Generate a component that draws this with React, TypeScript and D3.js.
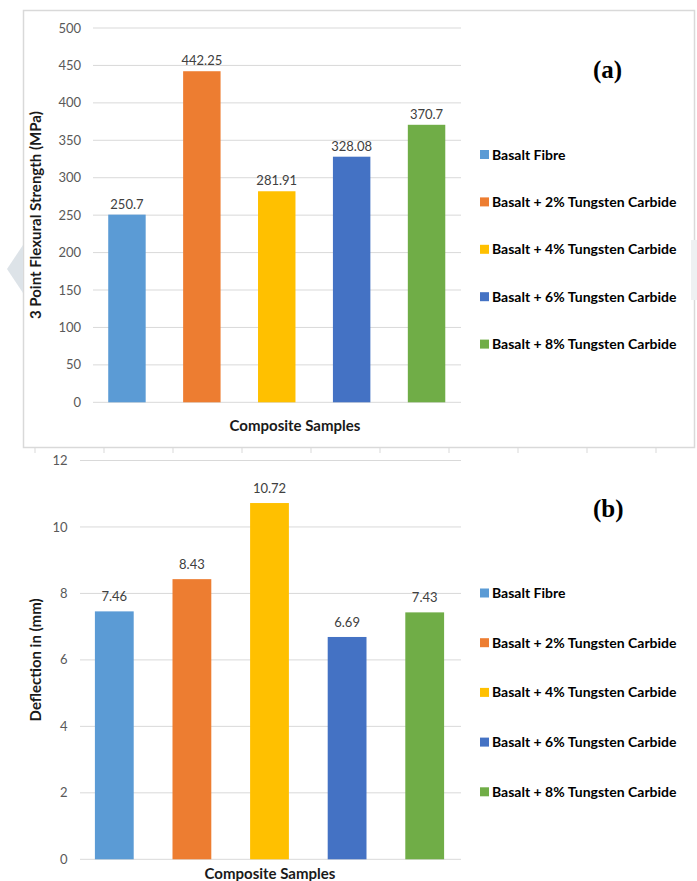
import React from "react";
import * as d3 from "d3";

const samples = [
  "Basalt Fibre",
  "Basalt + 2% Tungsten Carbide",
  "Basalt + 4% Tungsten Carbide",
  "Basalt + 6% Tungsten Carbide",
  "Basalt + 8% Tungsten Carbide",
];
const barColors = ["#5B9BD5", "#ED7D31", "#FFC000", "#4472C4", "#70AD47"];
const strength = [250.7, 442.25, 281.91, 328.08, 370.7];
const deflection = [7.46, 8.43, 10.72, 6.69, 7.43];
const strengthTicks = [0, 50, 100, 150, 200, 250, 300, 350, 400, 450, 500];
const deflectionTicks = [0, 2, 4, 6, 8, 10, 12];
const stubTicks = [35, 104, 173, 242, 311, 380, 449, 518, 587, 656];

const FONT = "Lato, 'Liberation Sans', sans-serif";
const GRID = "#d9d9d9";

const Panel = props => {
  const {
    values, ticks, yMax, yTop, yBottom, xRange, gridX, tickX,
    yTitle, yTitleX, xTitleX, xTitleY, labelGap, legendY, legendStep, tag, tagY,
  } = props;

  const x = d3.scaleBand().domain(samples).range(xRange).paddingInner(0.5).paddingOuter(0.25);
  const y = d3.scaleLinear().domain([0, yMax]).range([yBottom, yTop]);

  return (
    <g>
      {ticks.map(t => (
        <g key={t}>
          <line x1={gridX[0]} x2={gridX[1]} y1={y(t)} y2={y(t)} stroke={GRID} strokeWidth={1} />
          <text x={tickX} y={y(t)} dy="0.35em" textAnchor="end" fontSize={13} fill="#595959" fontFamily={FONT}>
            {t}
          </text>
        </g>
      ))}
      {values.map((v, i) => (
        <g key={samples[i]}>
          <rect x={x(samples[i])} y={y(v)} width={x.bandwidth()} height={y(0) - y(v)} fill={barColors[i]} />
          <text
            x={x(samples[i]) + x.bandwidth() / 2}
            y={y(v) - labelGap}
            textAnchor="middle"
            fontSize={13}
            fill="#404040"
            fontFamily={FONT}
          >
            {String(v)}
          </text>
        </g>
      ))}
      <text
        transform={`translate(${yTitleX},${(yTop + yBottom) / 2}) rotate(-90)`}
        textAnchor="middle"
        fontSize={15}
        fontWeight="bold"
        fill="#1a1a1a"
        fontFamily={FONT}
      >
        {yTitle}
      </text>
      <text x={xTitleX} y={xTitleY} textAnchor="middle" fontSize={15} fontWeight="bold" fill="#1a1a1a" fontFamily={FONT}>
        Composite Samples
      </text>
      {samples.map((s, i) => (
        <g key={s} transform={`translate(480,${legendY + i * legendStep})`}>
          <rect x={0} y={-4.5} width={9} height={9} fill={barColors[i]} />
          <text x={12} y={0} dy="0.36em" fontSize={14} fontWeight="bold" fill="#000" fontFamily={FONT}>
            {s}
          </text>
        </g>
      ))}
      <text x={593} y={tagY} fontSize={25} fontWeight="bold" fill="#000" fontFamily="'Liberation Serif', 'Times New Roman', serif">
        {tag}
      </text>
    </g>
  );
};

export default function App() {
  return (
    <svg
      width={697}
      height={881}
      style={{ position: "absolute", left: 0, top: 0, background: "#fff" }}
    >
      <rect x={0} y={0} width={697} height={881} fill="#fff" />
      {/* frame of the upper chart */}
      <rect x={23.5} y={10.5} width={671} height={437} fill="none" stroke={GRID} strokeWidth={1.5} />
      {/* grey arrow tab at the left edge */}
      <path d="M23,245 L23,293 L7,269 Z" fill="#dde3e8" />
      <rect x={691} y={240} width={6} height={60} fill="#eef0f2" />
      {stubTicks.map(t => (
        <line key={t} x1={t} x2={t} y1={448} y2={453} stroke={GRID} strokeWidth={1} />
      ))}
      <Panel
        values={strength}
        ticks={strengthTicks}
        yMax={500}
        yTop={28}
        yBottom={402.3}
        xRange={[89.5, 464]}
        gridX={[93, 461]}
        tickX={81}
        yTitle="3 Point Flexural Strength (MPa)"
        yTitleX={41}
        xTitleX={295}
        xTitleY={431}
        labelGap={6}
        legendY={154.5}
        legendStep={47.4}
        tag="(a)"
        tagY={78}
      />
      <Panel
        values={deflection}
        ticks={deflectionTicks}
        yMax={12}
        yTop={460.5}
        yBottom={859.3}
        xRange={[75.5, 463.5]}
        gridX={[80, 461]}
        tickX={67.5}
        yTitle="Deflection in (mm)"
        yTitleX={41}
        xTitleX={270}
        xTitleY={879}
        labelGap={10}
        legendY={593}
        legendStep={49.7}
        tag="(b)"
        tagY={517}
      />
    </svg>
  );
}
